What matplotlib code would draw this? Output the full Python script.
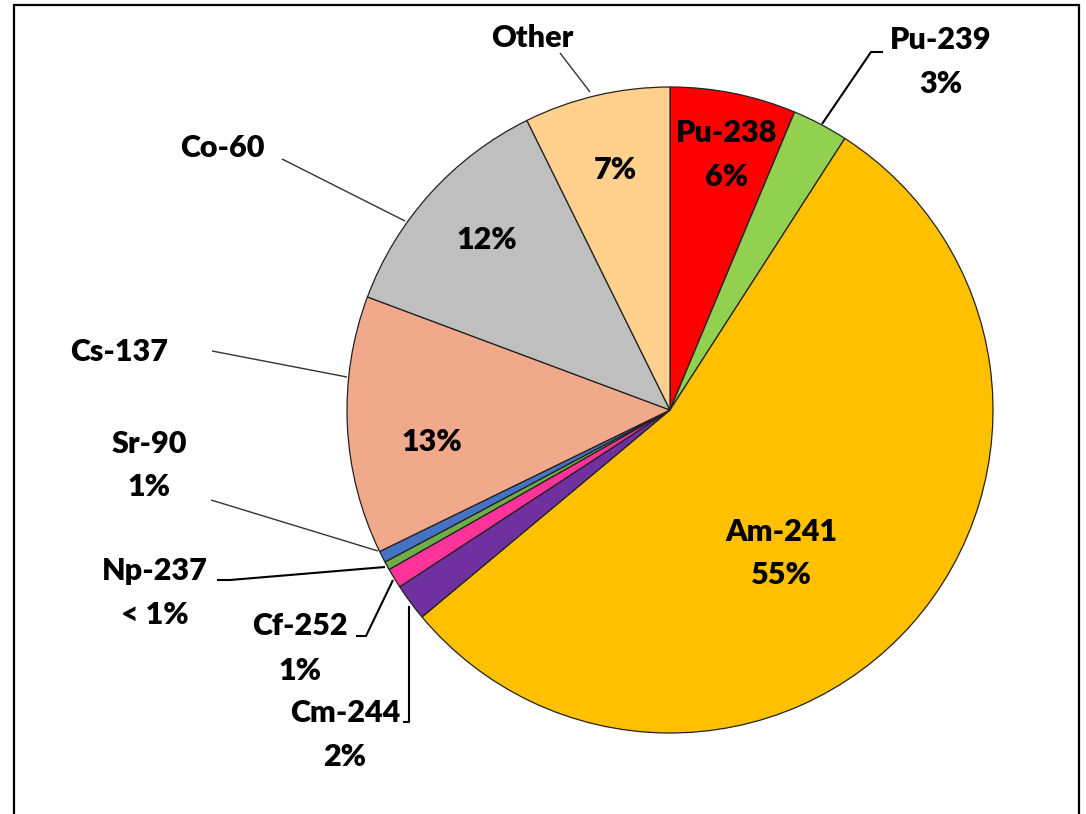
import matplotlib.pyplot as plt

plt.rcParams['font.family'] = ['Lato', 'DejaVu Sans']

# slices, clockwise from 12 o'clock
isotopes = ['Pu-238', 'Pu-239', 'Am-241', 'Cm-244', 'Cf-252', 'Np-237', 'Sr-90', 'Cs-137', 'Co-60', 'Other']
shares = [6.3, 2.8, 54.8, 1.85, 1.0, 0.42, 0.58, 12.9, 12.0, 7.3]
pct_labels = ['6%', '3%', '55%', '2%', '1%', '< 1%', '1%', '13%', '12%', '7%']
colors = ['#FF0000', '#92D050', '#FFC000', '#7030A0', '#FF3399', '#70AD47',
          '#4472C4', '#F1A98B', '#BFBFBF', '#FFD18C']

W, H = 1086, 814
fig = plt.figure(figsize=(W / 100, H / 100), dpi=100)
ax = fig.add_axes([0, 0, 1, 1])

def Y(y):
    # picture rows -> axis y
    return H - y

ax.pie(shares, colors=colors, startangle=90, counterclock=False,
       center=(670, Y(410)), radius=323,
       wedgeprops=dict(edgecolor='#222222', linewidth=0.9))
ax.set_xlim(0, W)
ax.set_ylim(0, H)
ax.set_aspect('equal')
ax.axis('off')

fs = 22
def lab(x, y, s):
    ax.text(x, Y(y), s, ha='center', va='center', fontsize=fs, fontweight='heavy', color='black')

# labels inside the pie
lab(727, 133, isotopes[0])
lab(727, 177, pct_labels[0])
lab(781, 532, isotopes[2])
lab(781, 575, pct_labels[2])
lab(615, 170, pct_labels[9])
lab(487, 240, pct_labels[8])
lab(432, 442, pct_labels[7])

# labels outside
lab(532, 38, isotopes[9])
lab(941, 40, isotopes[1])
lab(941, 84, pct_labels[1])
lab(222, 148, isotopes[8])
lab(119, 352, isotopes[7])
lab(149, 444, isotopes[6])
lab(149, 487, pct_labels[6])
lab(155, 571, isotopes[5])
lab(155, 615, pct_labels[5])
lab(300, 626, isotopes[4])
lab(300, 671, pct_labels[4])
lab(345, 713, isotopes[3])
lab(345, 757, pct_labels[3])

# leader lines
def lead(xs, ys, lw=1.0, c='#333333'):
    ax.plot(xs, [Y(v) for v in ys], color=c, lw=lw, solid_capstyle='butt')

lead([560, 590], [53, 92])
lead([883, 871, 822], [52, 52, 124], lw=1.5, c='black')
lead([282, 405], [159, 221])
lead([212, 347], [351, 377])
lead([211, 378], [500, 551])
lead([217, 230, 385], [580, 580, 567], lw=1.5, c='black')
lead([356, 366, 393], [636, 636, 580], lw=1.5, c='black')
lead([403, 409, 409], [722, 722, 606], lw=1.5, c='black')

# frame (left, top, right)
ax.plot([14, 14, 1079, 1079], [Y(814), Y(5), Y(5), Y(814)], color='black', lw=1.6,
        solid_joinstyle='miter')

fig.savefig('out.png', dpi=100)
